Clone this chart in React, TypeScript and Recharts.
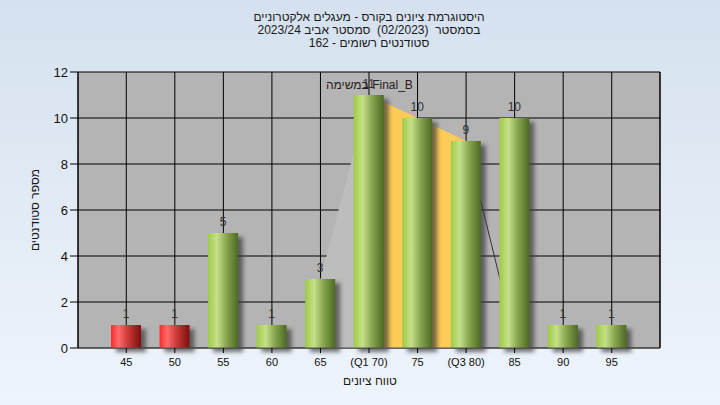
import React from 'react';
import { ComposedChart, Bar, Area, Line, XAxis, YAxis, CartesianGrid, LabelList } from 'recharts';

const scores = [45, 50, 55, 60, 65, 70, 75, 80, 85, 90, 95];
const tickLabels = ['45', '50', '55', '60', '65', '(Q1 70)', '75', '(Q3 80)', '85', '90', '95'];
const counts = [1, 1, 5, 1, 3, 11, 10, 9, 10, 1, 1];
const quartileBand = [null, null, null, null, null, 11, 10, 9, null, null, null];
const leftWedge = [null, null, null, null, 3, 11, null, null, null, null, null];
const tailLine = [null, null, null, null, null, null, null, 9, 0.4, null, null];
const yTicks = [0, 2, 4, 6, 8, 10, 12];
const passingScore = 55;

const titleLines = [
	'היסטוגרמת ציונים בקורס - מעגלים אלקטרוניים',
	'בסמסטר  (02/2023)  סמסטר אביב 2023/24',
	'סטודנטים רשומים - 162',
];

const data = scores.map((score, i) => ({
	score,
	label: tickLabels[i],
	count: counts[i],
	band: quartileBand[i],
	wedge: leftWedge[i],
	tail: tailLine[i],
}));

const FONT = '"Liberation Sans", Arial, sans-serif';

const GradientBar = (props: any) => {
	const { x, y, width, height, payload } = props;
	if (!height || height <= 0) return null;
	const grad = payload.score < passingScore ? 'url(#redBar)' : 'url(#greenBar)';
	return (
		<g>
			<rect x={x + 5} y={y + 4} width={width} height={height} fill="#3a3a3a" opacity={0.7} filter="url(#barShadow)" />
			<rect x={x} y={y} width={width} height={height} fill={grad} />
		</g>
	);
};

export default function App() {
	return (
		<div
			style={{
				position: 'absolute',
				left: 0,
				top: 0,
				width: 720,
				height: 405,
				background: 'linear-gradient(180deg, #d5e1ef 0%, #eef4fb 100%)',
				fontFamily: FONT,
				color: '#1a1a1a',
			}}
		>
			<div
				style={{
					position: 'absolute',
					left: 78,
					top: 11,
					width: 582,
					textAlign: 'center',
					fontSize: 12,
					lineHeight: '13px',
					direction: 'rtl',
					whiteSpace: 'pre',
				}}
			>
				{titleLines.map((t) => (
					<div key={t}>{t}</div>
				))}
			</div>
			<ComposedChart width={720} height={405} data={data} margin={{ top: 72, right: 0, bottom: 0, left: 0 }}>
				<defs>
					<linearGradient id="greenBar" x1="0" y1="0" x2="1" y2="0">
						<stop offset="0%" stopColor="#9fcb45" />
						<stop offset="30%" stopColor="#c6e08a" />
						<stop offset="60%" stopColor="#89a650" />
						<stop offset="100%" stopColor="#4c6a22" />
					</linearGradient>
					<linearGradient id="redBar" x1="0" y1="0" x2="1" y2="0">
						<stop offset="0%" stopColor="#ff2a2a" />
						<stop offset="25%" stopColor="#ff6a6a" />
						<stop offset="60%" stopColor="#c83434" />
						<stop offset="100%" stopColor="#7a1010" />
					</linearGradient>
					<filter id="barShadow" x="-50%" y="-10%" width="200%" height="130%">
						<feGaussianBlur stdDeviation="2" />
					</filter>
				</defs>
				<CartesianGrid stroke="#000" fill="#b4b4b4" strokeWidth={1} />
				<XAxis
					dataKey="label"
					height={57}
					padding={{ left: 24, right: 24 }}
					interval={0}
					tickSize={5}
					tickMargin={5}
					tickLine={{ stroke: '#000' }}
					axisLine={{ stroke: '#555' }}
					tick={{ fontSize: 11, fill: '#111', fontFamily: FONT }}
				/>
				<YAxis
					width={78}
					domain={[0, 12]}
					ticks={yTicks}
					interval={0}
					tickSize={8}
					tickMargin={2}
					tickLine={{ stroke: '#000' }}
					axisLine={{ stroke: '#000' }}
					tick={{ fontSize: 13, fill: '#111', fontFamily: FONT }}
				/>
				<YAxis
					yAxisId="right"
					orientation="right"
					width={60}
					domain={[0, 12]}
					ticks={yTicks}
					interval={0}
					tickSize={8}
					tickMargin={2}
					tickLine={{ stroke: '#000' }}
					axisLine={{ stroke: '#000' }}
					tick={{ fontSize: 13, fill: '#111', fontFamily: FONT }}
				/>
				<Area
					dataKey="wedge"
					type="linear"
					stroke="none"
					fill="#bdbdbd"
					fillOpacity={1}
					isAnimationActive={false}
					zIndex={50}
				/>
				<Area
					dataKey="band"
					type="linear"
					stroke="none"
					fill="#ffcb57"
					fillOpacity={1}
					isAnimationActive={false}
					zIndex={50}
				/>
				<Line
					dataKey="tail"
					type="linear"
					stroke="#333"
					strokeWidth={1}
					dot={false}
					isAnimationActive={false}
					zIndex={60}
				/>
				<Bar dataKey="count" barSize={30} shape={GradientBar} isAnimationActive={false}>
					<LabelList dataKey="count" position="top" offset={7} fill="#333" fontSize={12} fontFamily={FONT} />
				</Bar>
			</ComposedChart>
			<div style={{ position: 'absolute', left: 326, top: 78, fontSize: 12, color: '#2a1a1a', whiteSpace: 'nowrap' }}>
				{'במשימה Final_B'}
			</div>
			<div
				style={{
					position: 'absolute',
					left: 35,
					top: 210,
					fontSize: 12,
					whiteSpace: 'nowrap',
					transform: 'translate(-50%, -50%) rotate(-90deg)',
					direction: 'rtl',
				}}
			>
				מספר סטודנטים
			</div>
			<div
				style={{
					position: 'absolute',
					left: 370,
					top: 381,
					fontSize: 12,
					whiteSpace: 'nowrap',
					transform: 'translate(-50%, -50%)',
					direction: 'rtl',
				}}
			>
				טווח ציונים
			</div>
		</div>
	);
}
